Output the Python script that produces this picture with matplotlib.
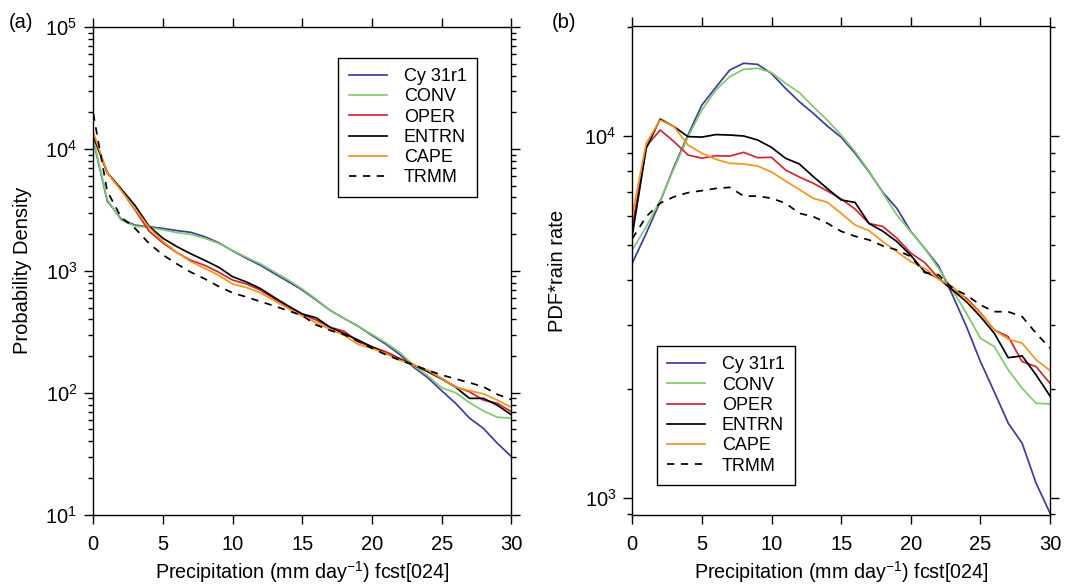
import numpy as np
import matplotlib
matplotlib.use("Agg")
import matplotlib.pyplot as plt
from matplotlib.ticker import LogLocator, NullFormatter, FixedLocator

plt.rcParams['font.family'] = ['Liberation Sans', 'DejaVu Sans']
plt.rcParams['mathtext.default'] = 'regular'

# rain rate (mm/day), one value per integer bin
rain = np.arange(0, 31)

# (a) probability density
pdf_cy31r1 = [11800, 3750, 2660, 2370, 2300, 2230, 2140, 2070, 1905, 1700, 1460,
              1266, 1110, 950, 815, 696, 576, 474, 407, 352, 296,
              250, 206, 162, 133, 104, 82, 62, 51, 38.5, 30]
pdf_conv = [12000, 3850, 2600, 2330, 2270, 2170, 2060, 1990, 1850, 1680, 1470,
            1290, 1140, 980, 840, 710, 585, 475, 407, 352, 301,
            257, 214, 167, 138, 110, 100, 83, 71, 63, 62]
pdf_oper = [12800, 6400, 4600, 3160, 2120, 1690, 1410, 1220, 1110, 975, 840,
            780, 695, 590, 505, 440, 395, 344, 320, 262, 238,
            217, 191, 169, 153, 131, 112, 102, 87, 82, 70]
pdf_entrn = [12800, 6400, 4700, 3430, 2320, 1850, 1580, 1380, 1220, 1070, 895,
             810, 715, 604, 515, 443, 412, 344, 306, 271, 238,
             210, 188, 169, 149, 130, 111, 90, 90, 79, 66]
pdf_cape = [13650, 6400, 4555, 3226, 2270, 1740, 1420, 1190, 1050, 920, 780,
            730, 660, 570, 490, 425, 376, 331, 297, 250, 231,
            210, 185, 169, 153, 131, 111, 104, 98, 87, 76]
pdf_trmm = [19500, 4500, 2750, 2230, 1680, 1350, 1140, 975, 860, 745, 660,
            610, 560, 515, 470, 430, 360, 325, 300, 265, 232,
            205, 185, 169, 153, 140, 130, 121, 112, 97, 88]

# (b) PDF * rain rate
pr_cy31r1 = [4450, 5380, 6580, 8225, 10060, 12180, 13630, 15220, 15890, 15780, 14880,
             13550, 12440, 11550, 10660, 9920, 8960, 7960, 6980, 6310, 5450,
             4890, 4370, 3630, 2970, 2380, 1960, 1606, 1413, 1096, 906]
pr_conv = [4840, 5610, 6640, 8140, 9960, 11800, 13400, 14590, 15290, 15390, 14980,
           13990, 13180, 12050, 11070, 10060, 9060, 8000, 6945, 6050, 5435,
           4890, 4305, 3750, 3234, 2760, 2615, 2255, 2005, 1823, 1815]
pr_oper = [5600, 9350, 10390, 9645, 8860, 8680, 8820, 8800, 9010, 8710, 8730,
           8055, 7700, 7400, 7050, 6700, 6280, 5730, 5620, 5215, 4745,
           4466, 4043, 3750, 3558, 3247, 2908, 2787, 2377, 2302, 2070]
pr_entrn = [5320, 9250, 11140, 10610, 9960, 9930, 10090, 10060, 10000, 9750, 9300,
            8680, 8366, 7720, 7160, 6655, 6550, 5730, 5450, 5105, 4675,
            4215, 4043, 3750, 3482, 3166, 2848, 2437, 2465, 2185, 1910]
pr_cape = [6050, 9545, 11070, 10610, 9440, 8960, 8620, 8404, 8366, 8260, 7950,
           7510, 7110, 6720, 6560, 6110, 5675, 5472, 5100, 4790, 4494,
           4305, 4017, 3832, 3522, 3235, 2908, 2743, 2673, 2405, 2245]
pr_trmm = [5200, 5985, 6520, 6790, 6970, 7060, 7160, 7210, 6820, 6820, 6725,
           6520, 6110, 5985, 5740, 5450, 5280, 5160, 4965, 4840, 4640,
           4190, 4130, 3795, 3630, 3410, 3267, 3265, 3166, 2848, 2590]

names = ['Cy 31r1', 'CONV', 'OPER', 'ENTRN', 'CAPE', 'TRMM']
colors = ['#3a3d9e', '#82c86e', '#d02630', 'black', '#f7931e', 'black']
styles = ['-', '-', '-', '-', '-', '--']

fig = plt.figure(figsize=(10.65, 5.85), dpi=100)
ax1 = fig.add_axes([0.0876, 0.1202, 0.3925, 0.8336])
ax2 = fig.add_axes([0.5937, 0.1197, 0.3922, 0.8359])

panel_a = [pdf_cy31r1, pdf_conv, pdf_oper, pdf_entrn, pdf_cape, pdf_trmm]
panel_b = [pr_cy31r1, pr_conv, pr_oper, pr_entrn, pr_cape, pr_trmm]

xlab = 'Precipitation (mm day$^{-1}$) fcst[024]'
for ax, series in [(ax1, panel_a), (ax2, panel_b)]:
    for vals, name, c, ls in zip(series, names, colors, styles):
        if ls == '--':
            ax.plot(rain, vals, color=c, lw=1.25, label=name, dashes=(4.2, 3.8))
        else:
            ax.plot(rain, vals, color=c, lw=1.25, label=name)
    ax.set_yscale('log')
    ax.set_xlim(0, 30)
    ax.xaxis.set_major_locator(FixedLocator([0, 5, 10, 15, 20, 25, 30]))
    ax.yaxis.set_minor_locator(LogLocator(base=10, subs=np.arange(2, 10)))
    ax.yaxis.set_minor_formatter(NullFormatter())
    ax.tick_params(which='both', direction='out', top=True, right=True,
                   labelsize=14.5, width=1.0, colors='black')
    ax.tick_params(which='major', length=6.5)
    ax.tick_params(which='minor', length=3.5)
    ax.tick_params(axis='x', which='major', pad=8)
    ax.tick_params(axis='y', which='major', pad=5)
    for sp in ax.spines.values():
        sp.set_linewidth(1.0)
    ax.set_xlabel(xlab, fontsize=14.2)
    ax.xaxis.set_label_coords(0.5, -0.091)

ax1.set_ylim(10, 1e5)
ax2.set_ylim(895, 20150)
ax1.set_ylabel('Probability Density', fontsize=14.5)
ax2.set_ylabel('PDF*rain rate', fontsize=14.5)
ax1.yaxis.set_label_coords(-0.147, 0.5)
ax2.yaxis.set_label_coords(-0.156, 0.5)

leg_kw = dict(loc='upper left', fontsize=13, frameon=True, fancybox=False,
              edgecolor='black', framealpha=1, borderaxespad=0,
              handlelength=2.1, handletextpad=0.92, labelspacing=0.18,
              borderpad=0.59)
l1 = ax1.legend(bbox_to_anchor=(0.5865, 0.9375), **leg_kw)
l2 = ax2.legend(bbox_to_anchor=(0.0584, 0.3462), **leg_kw)
for lg in (l1, l2):
    lg.get_frame().set_linewidth(1.0)

fig.text(0.008, 0.962, '(a)', fontsize=14.5, va='center')
fig.text(0.518, 0.962, '(b)', fontsize=14.5, va='center')

fig.savefig('out.png', dpi=100)
